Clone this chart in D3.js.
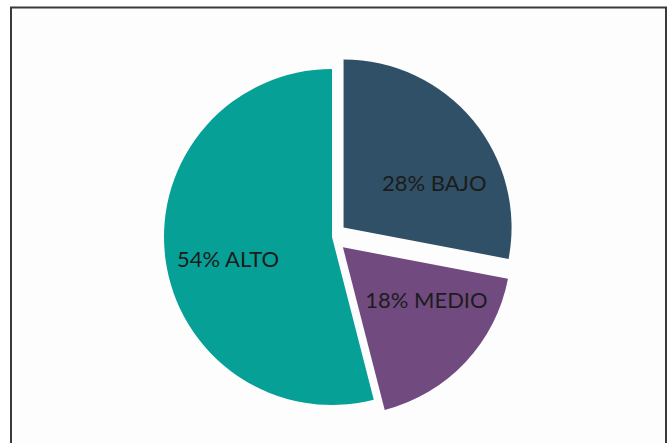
<!DOCTYPE html>
<html>
<head>
<meta charset="utf-8">
<script src="https://cdn.jsdelivr.net/npm/d3@7"></script>
<style>
  html, body { margin: 0; padding: 0; background: #ffffff; }
  svg { display: block; }
</style>
</head>
<body>
<svg id="chart" width="668" height="443"></svg>
<script>
// Data
const categories = ["BAJO", "MEDIO", "ALTO"];
const values = [28, 18, 54];
const labels = ["28% BAJO", "18% MEDIO", "54% ALTO"];

const colors = ["#2f5066", "#714b80", "#07a096"];
const explode = [15, 15, 0];
const labelNudge = [[13, 19], [10, -17], [-4, 9]];

const W = 668, H = 443;
const svg = d3.select("#chart");

svg.append("rect")
  .attr("x", 0).attr("y", 0).attr("width", W).attr("height", H)
  .attr("fill", "#ffffff");

// frame
svg.append("rect")
  .attr("x", 11).attr("y", 7.5).attr("width", 655).attr("height", 450)
  .attr("fill", "#fdfdfd")
  .attr("stroke", "#3a3a3a").attr("stroke-width", 2);

const cx = 332, cy = 237, r = 168;

const pie = d3.pie().sort(null).value(d => d.value).startAngle(0).endAngle(2 * Math.PI);
const data = categories.map((c, i) => ({ cat: c, value: values[i], label: labels[i], i }));
const arcs = pie(data);

const arc = d3.arc().innerRadius(0).outerRadius(r);
const labelArc = d3.arc().innerRadius(r * 0.6).outerRadius(r * 0.6);

const g = svg.append("g").attr("transform", `translate(${cx},${cy})`);

const slices = g.selectAll("g.slice").data(arcs).enter().append("g")
  .attr("class", "slice")
  .attr("transform", d => {
    const mid = (d.startAngle + d.endAngle) / 2;
    const k = explode[d.data.i];
    return `translate(${Math.sin(mid) * k},${-Math.cos(mid) * k})`;
  });

slices.append("path")
  .attr("d", arc)
  .attr("fill", d => colors[d.data.i]);

slices.append("text")
  .attr("transform", d => {
    const c = labelArc.centroid(d);
    const n = labelNudge[d.data.i];
    return `translate(${c[0] + n[0]},${c[1] + n[1]})`;
  })
  .attr("text-anchor", "middle")
  .attr("dominant-baseline", "central")
  .attr("font-family", "Lato, 'Open Sans', sans-serif")
  .attr("font-size", 22)
  .attr("fill", "#1c1c1c")
  .text(d => d.data.label);
</script>
</body>
</html>
